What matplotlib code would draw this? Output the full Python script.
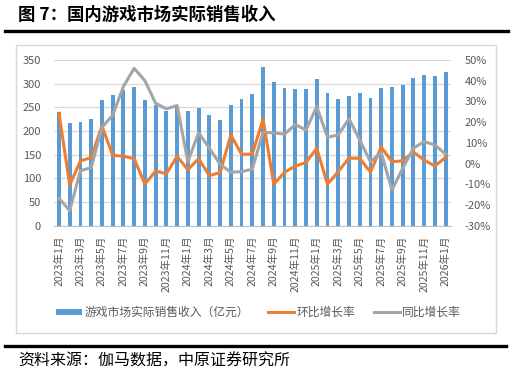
import numpy as np
import matplotlib
matplotlib.use("Agg")
import matplotlib.pyplot as plt
import matplotlib.ticker as ticker
from matplotlib.patches import Rectangle, Patch
from matplotlib.lines import Line2D

plt.rcParams['font.family'] = ['Noto Sans CJK SC', 'DejaVu Sans']

# data
months = [f"{y}年{m}月" for y in (2023, 2024, 2025) for m in range(1, 13)] + ["2026年1月"]
revenue = [240.1, 216.0, 218.5, 225.0, 265.5, 276.8, 286.6, 293.0, 264.8, 254.0, 242.0, 253.0,
           242.5, 248.6, 234.5, 224.0, 255.0, 267.5, 278.0, 335.8, 303.0, 291.5, 288.0, 289.0,
           309.8, 279.6, 267.6, 274.0, 280.0, 269.0, 291.5, 293.0, 297.0, 313.0, 318.0, 316.0, 325.0]
mom = [24.3, -10.3, 1.3, 2.9, 18.2, 4.0, 3.5, 2.4, -9.9, -3.6, -4.9, 3.5,
       -3.0, 2.4, -5.8, -4.4, 13.8, 4.5, 4.5, 21.5, -10.0, -4.2, -1.2, 0.5,
       7.4, -10.0, -3.9, 2.6, 2.6, -4.2, 8.0, 0.9, 1.3, 5.6, 1.7, -1.2, 3.0]
yoy = [-16.8, -22.7, -3.4, -2.0, 17.5, 23.3, 37.2, 46.0, 40.0, 29.1, 26.4, 28.0,
       0.9, 14.9, 7.4, -0.3, -4.2, -3.9, -2.7, 15.1, 14.8, 14.2, 18.8, 16.2,
       27.5, 12.7, 13.8, 21.7, 11.4, 0.9, 5.3, -12.8, -2.3, 7.4, 10.6, 9.0, 4.5]

blue = '#5B9BD5'
orange = '#ED7D31'
grey = '#A5A5A5'
txt = '#595959'

W, H = 511, 379
fig = plt.figure(figsize=(W/100, H/100), dpi=100)

# frame + rules
fig.patches.append(Rectangle((16/W, 1-333/H), 480/W, 288/H, transform=fig.transFigure,
                             fill=False, edgecolor='#D9D9D9', lw=1))
fig.add_artist(Line2D([5/W, 508/W], [1-31/H, 1-31/H], color='black', lw=2.4))
fig.add_artist(Line2D([5/W, 506/W], [1-346/H, 1-346/H], color='black', lw=2.4))
fig.text(18/W, 1-15/H, "图 7：国内游戏市场实际销售收入", fontsize=12.5, fontweight='bold',
         ha='left', va='center', color='black')
fig.text(18/W, 1-361/H, "资料来源：伽马数据，中原证券研究所", fontsize=11.5,
         ha='left', va='center', color='black')

ax = fig.add_axes([53.6/W, 1-225.7/H, 397.4/W, 165.7/H])
x = np.arange(len(months))
ax.bar(x, revenue, width=0.36, color=blue, zorder=2)
ax.set_xlim(-0.5, len(months)-0.5)
ax.set_ylim(0, 350)
ax.yaxis.set_major_locator(ticker.MultipleLocator(50))
ax.grid(axis='y', color='#D9D9D9', lw=0.9, zorder=0)
ax.set_axisbelow(True)
for s in ('top', 'left', 'right'):
    ax.spines[s].set_visible(False)
ax.spines['bottom'].set_color('#BFBFBF')
ax.set_xticks(x[::2])
ax.set_xticklabels(months[::2], rotation=90, fontsize=7.6, color=txt)
ax.tick_params(axis='x', length=0, pad=7)
ax.tick_params(axis='y', length=0, pad=9, labelsize=8, labelcolor=txt)

ax2 = ax.twinx()
ax2.plot(x, mom, color=orange, lw=2.2, solid_joinstyle='round')
ax2.plot(x, yoy, color=grey, lw=2.2, solid_joinstyle='round')
ax2.set_ylim(-30, 50)
ax2.yaxis.set_major_locator(ticker.MultipleLocator(10))
ax2.yaxis.set_major_formatter(ticker.FuncFormatter(lambda v, p: f"{v:.0f}%"))
for s in ax2.spines.values():
    s.set_visible(False)
ax2.tick_params(axis='y', length=0, pad=10, labelsize=8, labelcolor=txt)

handles = [Patch(facecolor=blue, edgecolor='none'),
           Line2D([], [], color=orange, lw=2.2),
           Line2D([], [], color=grey, lw=2.2)]
labels = ["游戏市场实际销售收入（亿元）", "环比增长率", "同比增长率"]
fig.legend(handles, labels, loc='center', bbox_to_anchor=(258.5/W, 1-312.7/H), ncol=3,
           frameon=False, fontsize=8.5, labelcolor=txt, handlelength=2.2, handleheight=0.5,
           handletextpad=0.2, columnspacing=1.6)

fig.savefig('out.png', dpi=100)
